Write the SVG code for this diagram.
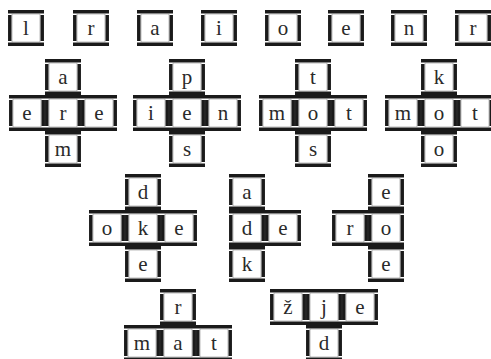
<svg xmlns="http://www.w3.org/2000/svg" xmlns:xlink="http://www.w3.org/1999/xlink" width="491" height="359" viewBox="0 0 491 359">
<style>
.t{font-family:'Liberation Serif','DejaVu Serif',serif;font-size:21px;fill:#2a2a2a;text-anchor:middle}
</style>
<defs>
<g id="tile">
<path d="M0,1.8 H36 M0,34.2 H36 M1.8,5 V31 M34.2,5 V31" fill="none" stroke="#1a1a1a" stroke-width="3.5"/>
<rect x="4" y="4" width="28" height="28" fill="none" stroke="#777" stroke-width="0.5"/>
</g>
</defs>
<rect width="491" height="359" fill="#fff"/>
<g font-family="Liberation Serif, DejaVu Serif, serif">
<g id="row1">
<g id="n-l"><use xlink:href="#tile" x="8" y="10"/><text class="t" x="26" y="35">l</text></g>
<g id="n-r1"><use xlink:href="#tile" x="73" y="10"/><text class="t" x="91" y="35">r</text></g>
<g id="n-a"><use xlink:href="#tile" x="137" y="10"/><text class="t" x="155" y="35">a</text></g>
<g id="n-i"><use xlink:href="#tile" x="201" y="10"/><text class="t" x="219" y="35">i</text></g>
<g id="n-o"><use xlink:href="#tile" x="265" y="10"/><text class="t" x="283" y="35">o</text></g>
<g id="n-e"><use xlink:href="#tile" x="328" y="10"/><text class="t" x="346" y="35">e</text></g>
<g id="n-n"><use xlink:href="#tile" x="391" y="10"/><text class="t" x="409" y="35">n</text></g>
<g id="n-r2"><use xlink:href="#tile" x="455" y="10"/><text class="t" x="473" y="35">r</text></g>
</g>
<g id="cross1">
<use xlink:href="#tile" x="45" y="59"/><text class="t" x="63" y="84">a</text>
<use xlink:href="#tile" x="9" y="95"/><text class="t" x="27" y="120">e</text>
<use xlink:href="#tile" x="45" y="95"/><text class="t" x="63" y="120">r</text>
<use xlink:href="#tile" x="81" y="95"/><text class="t" x="99" y="120">e</text>
<use xlink:href="#tile" x="45" y="131"/><text class="t" x="63" y="156">m</text>
</g>
<g id="cross2">
<use xlink:href="#tile" x="169" y="59"/><text class="t" x="187" y="84">p</text>
<use xlink:href="#tile" x="133" y="95"/><text class="t" x="151" y="120">i</text>
<use xlink:href="#tile" x="169" y="95"/><text class="t" x="187" y="120">e</text>
<use xlink:href="#tile" x="205" y="95"/><text class="t" x="223" y="120">n</text>
<use xlink:href="#tile" x="169" y="131"/><text class="t" x="187" y="156">s</text>
</g>
<g id="cross3">
<use xlink:href="#tile" x="295" y="59"/><text class="t" x="313" y="84">t</text>
<use xlink:href="#tile" x="259" y="95"/><text class="t" x="277" y="120">m</text>
<use xlink:href="#tile" x="295" y="95"/><text class="t" x="313" y="120">o</text>
<use xlink:href="#tile" x="331" y="95"/><text class="t" x="349" y="120">t</text>
<use xlink:href="#tile" x="295" y="131"/><text class="t" x="313" y="156">s</text>
</g>
<g id="cross4">
<use xlink:href="#tile" x="421" y="59"/><text class="t" x="439" y="84">k</text>
<use xlink:href="#tile" x="385" y="95"/><text class="t" x="403" y="120">m</text>
<use xlink:href="#tile" x="421" y="95"/><text class="t" x="439" y="120">o</text>
<use xlink:href="#tile" x="457" y="95"/><text class="t" x="475" y="120">t</text>
<use xlink:href="#tile" x="421" y="131"/><text class="t" x="439" y="156">o</text>
</g>
<g id="cross5">
<use xlink:href="#tile" x="125" y="174"/><text class="t" x="143" y="199">d</text>
<use xlink:href="#tile" x="89" y="210"/><text class="t" x="107" y="235">o</text>
<use xlink:href="#tile" x="125" y="210"/><text class="t" x="143" y="235">k</text>
<use xlink:href="#tile" x="161" y="210"/><text class="t" x="179" y="235">e</text>
<use xlink:href="#tile" x="125" y="246"/><text class="t" x="143" y="271">e</text>
</g>
<g id="cross6">
<use xlink:href="#tile" x="229" y="174"/><text class="t" x="247" y="199">a</text>
<use xlink:href="#tile" x="229" y="210"/><text class="t" x="247" y="235">d</text>
<use xlink:href="#tile" x="265" y="210"/><text class="t" x="283" y="235">e</text>
<use xlink:href="#tile" x="229" y="246"/><text class="t" x="247" y="271">k</text>
</g>
<g id="cross7">
<use xlink:href="#tile" x="368" y="174"/><text class="t" x="386" y="199">e</text>
<use xlink:href="#tile" x="332" y="210"/><text class="t" x="350" y="235">r</text>
<use xlink:href="#tile" x="368" y="210"/><text class="t" x="386" y="235">o</text>
<use xlink:href="#tile" x="368" y="246"/><text class="t" x="386" y="271">e</text>
</g>
<g id="cross8">
<use xlink:href="#tile" x="160" y="289"/><text class="t" x="178" y="314">r</text>
<use xlink:href="#tile" x="124" y="325"/><text class="t" x="142" y="350">m</text>
<use xlink:href="#tile" x="160" y="325"/><text class="t" x="178" y="350">a</text>
<use xlink:href="#tile" x="196" y="325"/><text class="t" x="214" y="350">t</text>
</g>
<g id="cross9">
<use xlink:href="#tile" x="270" y="289"/><text class="t" x="288" y="314">ž</text>
<use xlink:href="#tile" x="306" y="289"/><text class="t" x="324" y="314">j</text>
<use xlink:href="#tile" x="342" y="289"/><text class="t" x="360" y="314">e</text>
<use xlink:href="#tile" x="306" y="325"/><text class="t" x="324" y="350">d</text>
</g>
</g>
<g id="connectors"/>
</svg>
